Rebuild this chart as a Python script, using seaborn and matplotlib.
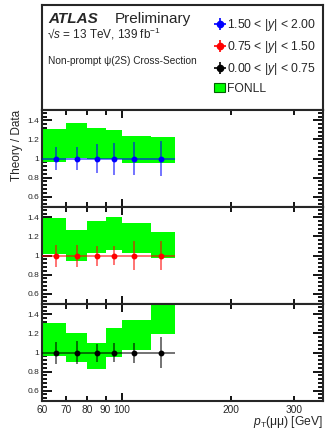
import matplotlib
matplotlib.use("Agg")
import matplotlib.pyplot as plt
import seaborn as sns
from matplotlib.patches import Patch
from matplotlib.ticker import FixedLocator, MultipleLocator, FuncFormatter, NullFormatter

# Data
bin_edges = [60, 70, 80, 90, 100, 120, 140]
pt_points = [65.5, 75, 85, 95, 108, 128]
data_ratio = [1.0, 1.0, 1.0, 1.0, 1.0, 1.0]

# 1.50 < |y| < 2.00
fonll_hi_y3 = [1.31, 1.37, 1.32, 1.30, 1.24, 1.23]
fonll_lo_y3 = [0.96, 1.01, 1.00, 0.99, 0.95, 0.955]
err_hi_y3 = [1.12, 1.12, 1.155, 1.165, 1.17, 1.18]
err_lo_y3 = [0.88, 0.88, 0.845, 0.83, 0.83, 0.82]

# 0.75 < |y| < 1.50
fonll_hi_y2 = [1.39, 1.27, 1.36, 1.40, 1.345, 1.25]
fonll_lo_y2 = [1.02, 0.94, 1.025, 1.06, 1.03, 0.97]
err_hi_y2 = [1.11, 1.11, 1.105, 1.10, 1.15, 1.155]
err_lo_y2 = [0.88, 0.88, 0.89, 0.895, 0.85, 0.845]

# 0.00 < |y| < 0.75
fonll_hi_y1 = [1.31, 1.21, 1.105, 1.26, 1.34, 1.55]
fonll_lo_y1 = [0.96, 0.90, 0.83, 0.955, 1.03, 1.19]
err_hi_y1 = [1.11, 1.12, 1.09, 1.10, 1.10, 1.16]
err_lo_y1 = [0.88, 0.88, 0.90, 0.90, 0.89, 0.835]

labels = ["1.50 < |$y$| < 2.00", "0.75 < |$y$| < 1.50", "0.00 < |$y$| < 0.75"]
colors = ["#0000ff", "#ff0000", "#000000"]

sns.set_style("ticks")
plt.rcParams["font.family"] = ["Liberation Sans", "DejaVu Sans"]
plt.rcParams["mathtext.fontset"] = "custom"
plt.rcParams["mathtext.it"] = "Liberation Sans:italic"
plt.rcParams["mathtext.rm"] = "Liberation Sans"

W, H = 325, 430
fig = plt.figure(figsize=(W / 100, H / 100), dpi=100)


def box(x0, y0, x1, y1):
    return [x0 / W, 1 - y1 / H, (x1 - x0) / W, (y1 - y0) / H]


def px(x, y):
    return x / W, 1 - y / H


top = fig.add_axes(box(42, 5, 323, 110))
top.set_xticks([])
top.set_yticks([])
for s in top.spines.values():
    s.set_linewidth(1.5)

panels = [
    (fonll_lo_y3, fonll_hi_y3, err_lo_y3, err_hi_y3),
    (fonll_lo_y2, fonll_hi_y2, err_lo_y2, err_hi_y2),
    (fonll_lo_y1, fonll_hi_y1, err_lo_y1, err_hi_y1),
]
tops = [110, 207, 304]
handles = []
for i, (flo, fhi, elo, ehi) in enumerate(panels):
    ax = fig.add_axes(box(42, tops[i], 323, tops[i] + 97))
    left = bin_edges[:-1]
    widths = [b - a for a, b in zip(bin_edges[:-1], bin_edges[1:])]
    ax.bar(left, [h - l for h, l in zip(fhi, flo)], bottom=flo, width=widths,
           align="edge", color="#00ff00", linewidth=0, zorder=1)
    xerr = [[p - a for p, a in zip(pt_points, bin_edges[:-1])],
            [b - p for p, b in zip(pt_points, bin_edges[1:])]]
    yerr = [[r - l for r, l in zip(data_ratio, elo)],
            [h - r for r, h in zip(data_ratio, ehi)]]
    ax.errorbar(pt_points, data_ratio, xerr=xerr, yerr=yerr, fmt="none",
                ecolor=colors[i], elinewidth=1.4, alpha=0.55, zorder=3)
    sns.scatterplot(x=pt_points, y=data_ratio, color=colors[i], s=18,
                    linewidth=0, ax=ax, zorder=4, legend=False)
    handles.append(ax.errorbar([], [], xerr=[], yerr=[], fmt="o", color=colors[i],
                               ms=4.5, elinewidth=1.2))

    ax.set_xscale("log")
    ax.set_xlim(60, 360)
    ax.set_ylim(0.49, 1.51)
    ax.yaxis.set_major_locator(FixedLocator([0.6, 0.8, 1.0, 1.2, 1.4]))
    ax.yaxis.set_minor_locator(MultipleLocator(0.04))
    ax.yaxis.set_major_formatter(FuncFormatter(lambda v, p: "%g" % v))
    ax.xaxis.set_major_locator(FixedLocator([100]))
    ax.xaxis.set_minor_locator(FixedLocator([60, 70, 80, 90, 200, 300]))
    if i == 2:
        ax.xaxis.set_major_formatter(FuncFormatter(lambda v, p: "%g" % v))
        ax.xaxis.set_minor_formatter(FuncFormatter(lambda v, p: "%g" % v))
    else:
        ax.xaxis.set_major_formatter(NullFormatter())
        ax.xaxis.set_minor_formatter(NullFormatter())
    ax.tick_params(axis="both", which="both", direction="in", top=True, right=True,
                   width=1.3, color="black")
    ax.tick_params(axis="y", which="major", length=7, labelsize=6, pad=2)
    ax.tick_params(axis="y", which="minor", length=3.5)
    ax.tick_params(axis="x", which="major", length=6, labelsize=7.3, pad=3)
    ax.tick_params(axis="x", which="minor", length=3.5, labelsize=7.3, pad=3)
    ax.set_xlabel("")
    ax.set_ylabel("")
    for s in ax.spines.values():
        s.set_linewidth(1.5)

handles.append(Patch(facecolor="#00ff00", edgecolor="#006400", linewidth=0.8))
top.legend(handles, labels + ["FONLL"], loc="upper left",
           bbox_to_anchor=(206 / W, 1 - 9 / H), bbox_transform=fig.transFigure,
           frameon=False, fontsize=8.7, handlelength=0.9, handletextpad=0.15,
           labelspacing=0.48, borderpad=0.2)

x, y = px(48, 23)
fig.text(x, y, "ATLAS", fontsize=11, fontweight="bold", fontstyle="italic", va="baseline")
x, y = px(115, 23)
fig.text(x, y, "Preliminary", fontsize=11, va="baseline")
x, y = px(47, 39)
fig.text(x, y, r"√$s$ = 13 TeV, 139 fb$^{-1}$", fontsize=8.5, va="baseline")
x, y = px(48, 64)
fig.text(x, y, "Non-prompt ψ(2S) Cross-Section", fontsize=7.3, va="baseline")

x, y = px(17, 110)
fig.text(x, y, "Theory / Data", rotation=90, ha="center", va="top", fontsize=8.5)
x, y = px(323, 425)
fig.text(x, y, r"$p_{\mathrm{T}}$(μμ) [GeV]", ha="right", va="baseline", fontsize=8.7)

fig.savefig("out.png", dpi=100)
